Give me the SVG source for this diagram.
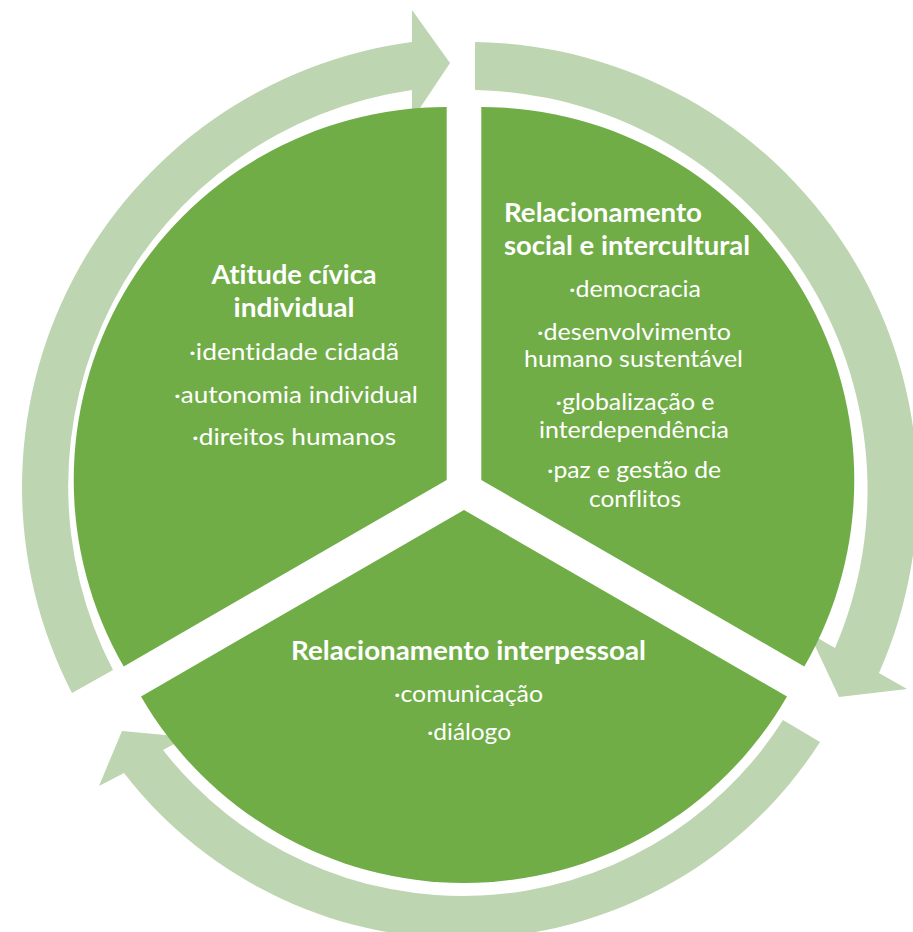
<svg xmlns="http://www.w3.org/2000/svg" width="913" height="932" viewBox="0 0 913 932">
<style>
.sector{fill:#70AD47;}
.arrow{fill:#BDD5B1;}
.t{font-family:Lato,"Open Sans","Liberation Sans",sans-serif;fill:#FFFFFF;font-size:24px;font-variant-ligatures:none;}
.b{font-weight:bold;font-size:27px;}
.m{text-anchor:middle;}
</style>
<rect width="913" height="932" fill="#FFFFFF"/>
<g id="connectors">
  <path class="arrow" d="M 72,693 A 449 449 0 0 1 412,42 L 412,10 L 450,63 L 412,120 L 412,90 A 400 400 0 0 0 113,670 Z"/>
  <path class="arrow" d="M 475,42 A 449 449 0 0 1 879,673 L 907,689 L 839,697 L 809,633 L 835,648 A 400 400 0 0 0 475,90 Z"/>
  <path class="arrow" d="M 820,742 A 426 426 0 0 1 124,773 L 99,786 L 122,731 L 187,737 L 163,750 A 380 380 0 0 0 783,720 Z"/>
</g>
<g id="node-atitude">
  <path class="sector" d="M 446.7,480 L 446.7,107 A 373 373 0 0 0 123.7,666.5 Z"/>
  <text class="t b m" x="294" y="283.5" textLength="165" lengthAdjust="spacingAndGlyphs">Atitude cívica</text>
  <text class="t b m" x="294" y="316.5" textLength="121" lengthAdjust="spacingAndGlyphs">individual</text>
  <text class="t m" x="294" y="360" textLength="210" lengthAdjust="spacingAndGlyphs">·identidade cidadã</text>
  <text class="t m" x="296" y="403" textLength="244" lengthAdjust="spacingAndGlyphs">·autonomia individual</text>
  <text class="t m" x="294" y="445" textLength="204" lengthAdjust="spacingAndGlyphs">·direitos humanos</text>
</g>
<g id="node-social">
  <path class="sector" d="M 481.3,480 L 481.3,107 A 373 373 0 0 1 804.3,666.5 Z"/>
  <text class="t b" x="504" y="221.5" textLength="198" lengthAdjust="spacingAndGlyphs">Relacionamento</text>
  <text class="t b" x="504" y="255" textLength="246" lengthAdjust="spacingAndGlyphs">social e intercultural</text>
  <text class="t m" x="635" y="297" textLength="132" lengthAdjust="spacingAndGlyphs">·democracia</text>
  <text class="t m" x="634" y="340" textLength="194" lengthAdjust="spacingAndGlyphs">·desenvolvimento</text>
  <text class="t m" x="633.5" y="367" textLength="219" lengthAdjust="spacingAndGlyphs">humano sustentável</text>
  <text class="t m" x="635" y="410" textLength="159" lengthAdjust="spacingAndGlyphs">·globalização e</text>
  <text class="t m" x="634" y="438" textLength="190" lengthAdjust="spacingAndGlyphs">interdependência</text>
  <text class="t m" x="634" y="478" textLength="174" lengthAdjust="spacingAndGlyphs">·paz e gestão de</text>
  <text class="t m" x="635" y="506.5" textLength="92" lengthAdjust="spacingAndGlyphs">conflitos</text>
</g>
<g id="node-interpessoal">
  <path class="sector" d="M 464,510 L 787,696.5 A 373 373 0 0 1 141,696.5 Z"/>
  <text class="t b m" x="468.5" y="660" textLength="355" lengthAdjust="spacingAndGlyphs">Relacionamento interpessoal</text>
  <text class="t m" x="468.5" y="702" textLength="149" lengthAdjust="spacingAndGlyphs">·comunicação</text>
  <text class="t m" x="469" y="740" textLength="84" lengthAdjust="spacingAndGlyphs">·diálogo</text>
</g>
</svg>
